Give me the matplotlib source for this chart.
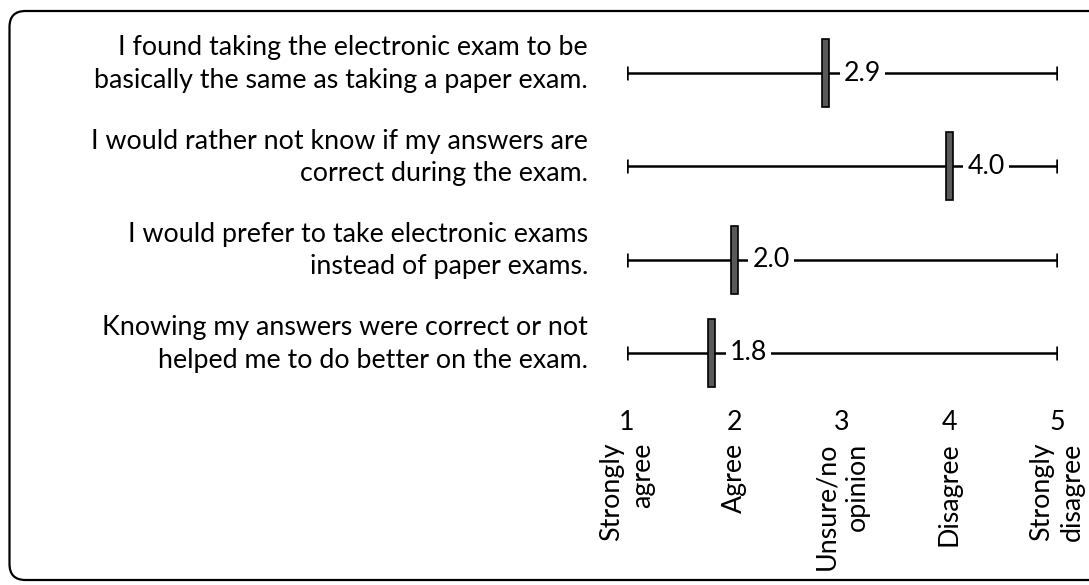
import matplotlib
matplotlib.use("Agg")
import matplotlib.pyplot as plt
from matplotlib.patches import FancyBboxPatch
from matplotlib.transforms import IdentityTransform

plt.rcParams["font.family"] = ["Lato", "DejaVu Sans"]

# ── data ────────────────────────────────────────────────────────────────────
STATEMENTS = [
    "I found taking the electronic exam to be\nbasically the same as taking a paper exam.",
    "I would rather not know if my answers are\ncorrect during the exam.",
    "I would prefer to take electronic exams\ninstead of paper exams.",
    "Knowing my answers were correct or not\nhelped me to do better on the exam.",
]
MEANS = [2.85, 4.0, 2.0, 1.79]
MEAN_LABELS = ["2.9", "4.0", "2.0", "1.8"]
SCALE = [1, 2, 3, 4, 5]
SCALE_LABELS = ["Strongly\nagree", "Agree", "Unsure/no\nopinion",
                "Disagree", "Strongly\ndisagree"]

FS = 19.3

fig = plt.figure(figsize=(10.89, 5.85), dpi=100)
ax = fig.add_axes([627 / 1089, 1 - 399.5 / 585, 430 / 1089, 373 / 585])
ax.set_xlim(SCALE[0], SCALE[-1])
ax.set_ylim(len(MEANS) - 0.5, -0.5)
ax.axis("off")

rows = list(range(len(MEANS)))

# range lines with end caps
ax.hlines(rows, SCALE[0], SCALE[-1], color="black", lw=1.8, zorder=1)
for r in rows:
    ax.plot([SCALE[0], SCALE[-1]], [r, r], ls="none", marker="|",
            ms=10, mew=1.8, color="black", zorder=1)

# mean markers
bw = 0.065
ax.barh(rows, [bw] * len(MEANS), left=[m - bw / 2 for m in MEANS],
        height=0.73, color="#595959", edgecolor="black", lw=1.2, zorder=3)

for r, m, lab in zip(rows, MEANS, MEAN_LABELS):
    ax.annotate(lab, xy=(m, r), xytext=(18, 0), textcoords="offset pixels",
                ha="left", va="center", fontsize=FS, zorder=4,
                bbox=dict(boxstyle="square,pad=0.15", fc="white", ec="none"))

# statements on the left
for r, s in zip(rows, STATEMENTS):
    ax.annotate(s, xy=(SCALE[0], r), xytext=(-39, 9), textcoords="offset pixels",
                ha="right", va="center", multialignment="right",
                fontsize=FS, linespacing=1.37, annotation_clip=False)

# scale numbers and labels
for v, lab in zip(SCALE, SCALE_LABELS):
    ax.annotate(str(v), xy=(v, len(MEANS) - 0.5), xytext=(0, -23),
                textcoords="offset pixels", ha="center", va="center",
                fontsize=FS, annotation_clip=False)
    ax.annotate(lab, xy=(v, len(MEANS) - 0.5), xytext=(0, -43),
                textcoords="offset pixels", ha="center", va="top",
                rotation=90, multialignment="right", fontsize=FS,
                linespacing=1.3, annotation_clip=False)

# rounded frame
frame = FancyBboxPatch((9.5, 5), 1120, 569, boxstyle="round,pad=0,rounding_size=16",
                       transform=IdentityTransform(), fc="none", ec="black", lw=1.6)
fig.patches.append(frame)

fig.savefig("out.png", dpi=100)
